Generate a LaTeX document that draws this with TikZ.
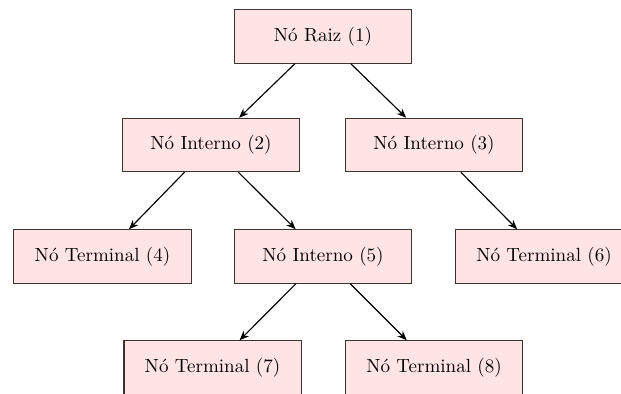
\documentclass[tikz,border=0pt]{standalone}
\usetikzlibrary{arrows.meta}
\definecolor{boxfill}{RGB}{255,228,230}
\definecolor{boxline}{RGB}{60,50,50}
\begin{document}
\begin{tikzpicture}[x=0.525pt,y=-0.525pt,
  treenode/.style={draw=boxline,fill=boxfill,semithick,minimum width=93pt,minimum height=28pt,inner sep=0pt,font=\normalsize},
  edge/.style={-{Stealth[length=5pt,width=4pt]},semithick}]
  \useasboundingbox (0,0) rectangle (621,394);
  \begin{scope}
  \clip (0,0) rectangle (621,394);
  % tree nodes, one row per level
  \node[treenode] (n1) at (323,36.5) {Nó Raiz (1)};
  \node[treenode] (n2) at (211,145) {Nó Interno (2)};
  \node[treenode] (n3) at (434,145) {Nó Interno (3)};
  \node[treenode] (n4) at (102.5,256.5) {Nó Terminal (4)};
  \node[treenode] (n5) at (323,256.5) {Nó Interno (5)};
  \node[treenode] (n6) at (544,256.5) {Nó Terminal (6)};
  \node[treenode] (n7) at (212.5,367.5) {Nó Terminal (7)};
  \node[treenode] (n8) at (434,367.5) {Nó Terminal (8)};
  % parent-to-child links
  \draw[edge] (n1) -- (n2);
  \draw[edge] (n1) -- (n3);
  \draw[edge] (n2) -- (n4);
  \draw[edge] (n2) -- (n5);
  \draw[edge] (n3) -- (n6);
  \draw[edge] (n5) -- (n7);
  \draw[edge] (n5) -- (n8);
  \end{scope}
\end{tikzpicture}
\end{document}
